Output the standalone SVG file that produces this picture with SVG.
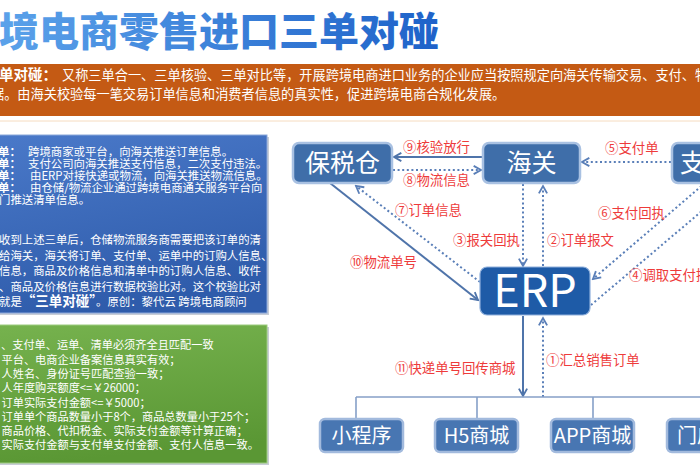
<svg xmlns="http://www.w3.org/2000/svg" width="700" height="470" viewBox="0 0 700 470">
<defs>
<linearGradient id="tg" x1="0" y1="0" x2="1" y2="0">
<stop offset="0" stop-color="#5BA2EA"/><stop offset="1" stop-color="#1E62C9"/>
</linearGradient>
<linearGradient id="bg" x1="0" y1="0" x2="0.3" y2="1">
<stop offset="0" stop-color="#4A79C9"/><stop offset="1" stop-color="#2F5CAB"/>
</linearGradient>
<linearGradient id="gg" x1="0" y1="0" x2="0.2" y2="1">
<stop offset="0" stop-color="#76B24E"/><stop offset="1" stop-color="#5A9734"/>
</linearGradient>
<marker id="ah" viewBox="0 0 12 12" refX="10" refY="6" markerWidth="11" markerHeight="11" markerUnits="userSpaceOnUse" orient="auto">
<path d="M2,1.5 L10,6 L2,10.5" fill="none" stroke="#4F74AA" stroke-width="2"/>
</marker>
<marker id="ahd" viewBox="0 0 12 12" refX="10" refY="6" markerWidth="11" markerHeight="11" markerUnits="userSpaceOnUse" orient="auto">
<path d="M2,1.5 L10,6 L2,10.5" fill="none" stroke="#5A7FB8" stroke-width="2"/>
</marker>
<style>
text{font-family:"Noto Sans CJK SC","Noto Sans",sans-serif;}
.w{fill:#fff;}
.p{font-size:13.2px;fill:#fff;}
.b{font-size:11.4px;fill:#fff;}
.g{font-size:11.2px;fill:#fff;}
.lbl{font-size:13.4px;fill:#EE3B3B;}
.node rect{fill:#3F6EA9;stroke:#A9C1E2;stroke-width:2.5;}
.node text{fill:#fff;font-size:25px;}
.leaf rect{fill:#4876B2;stroke:#A2BADD;stroke-width:2.5;}
.leaf text{fill:#fff;font-size:20px;}
.solid{stroke:#4F74AA;stroke-width:2;fill:none;}
.dot{stroke:#5A7FB8;stroke-width:2;fill:none;stroke-dasharray:2 2.6;}
.bus{stroke:#86A0C8;stroke-width:1.6;fill:none;}
</style>
</defs>
<rect width="700" height="470" fill="#fff"/>

<!-- title -->
<text x="-1" y="46" font-size="40" font-weight="900" fill="url(#tg)">境电商零售进口三单对碰</text>

<!-- orange band -->
<rect x="0" y="64" width="700" height="52" fill="#C45A14"/>
<line x1="0" y1="121" x2="700" y2="121" stroke="#F6DCC0" stroke-width="1"/>
<text y="79.5" class="p"><tspan x="-1" font-size="14.5" font-weight="700">单对碰：</tspan><tspan x="62">又称三单合一、三单核验、三单对比等，开展跨境电商进口业务的企业应当按照规定向海关传输交易、支付、物</tspan></text>
<text x="-9" y="99" class="p">据。由海关校验每一笔交易订单信息和消费者信息的真实性，促进跨境电商合规化发展。</text>

<!-- blue box -->
<rect x="-4" y="137" width="273" height="178" fill="#C8CDD6"/>
<rect x="-6" y="135" width="273" height="178" fill="url(#bg)" stroke="#8AA7DA" stroke-width="1"/>
<text y="155.5" class="b"><tspan x="-2" font-weight="700">单：</tspan><tspan x="28">跨境商家或平台，向海关推送订单信息。</tspan></text>
<text y="167.5" class="b"><tspan x="-2" font-weight="700">单：</tspan><tspan x="28">支付公司向海关推送支付信息，二次支付违法。</tspan></text>
<text y="179.5" class="b"><tspan x="-2" font-weight="700">单：</tspan><tspan x="30">由ERP对接快递或物流，向海关推送物流信息。</tspan></text>
<text y="191.5" class="b"><tspan x="-2" font-weight="700">单：</tspan><tspan x="30">由仓储/物流企业通过跨境电商通关服务平台向</tspan></text>
<text x="-1" y="204" class="b">门推送清单信息。</text>
<text x="-1" y="244" class="b">收到上述三单后，仓储物流服务商需要把该订单的清</text>
<text x="-1" y="259.5" class="b">给海关，海关将订单、支付单、运单中的订购人信息、</text>
<text x="-1" y="275" class="b">信息，商品及价格信息和清单中的订购人信息、收件</text>
<text x="-1" y="290.5" class="b">、商品及价格信息进行数据校验比对。这个校验比对</text>
<text x="-1" y="306" class="b">就是<tspan font-weight="700" font-size="13.5">“三单对碰”</tspan>。原创：黎代云 跨境电商顾问</text>

<!-- green box -->
<rect x="-4" y="327" width="273" height="138" fill="#C8CDD6"/>
<rect x="-6" y="325" width="273" height="138" fill="url(#gg)" stroke="#9CCB7E" stroke-width="1"/>
<text x="1" y="349" class="g">、支付单、运单、清单必须齐全且匹配一致</text>
<text x="1.5" y="363.5" class="g">平台、电商企业备案信息真实有效；</text>
<text x="1.5" y="377.5" class="g">人姓名、身份证号匹配查验一致；</text>
<text x="1.5" y="392" class="g">人年度购买额度&lt;=￥26000；</text>
<text x="1.5" y="406.5" class="g">订单实际支付金额&lt;=￥5000；</text>
<text x="1.5" y="420.5" class="g">订单单个商品数量小于8个，商品总数量小于25个；</text>
<text x="1.5" y="434.5" class="g">商品价格、代扣税金、实际支付金额等计算正确；</text>
<text x="1.5" y="449" class="g">实际支付金额与支付单支付金额、支付人信息一致。</text>

<!-- connectors -->
<g id="connectors">
<line class="solid" x1="483" y1="157" x2="394" y2="157" marker-end="url(#ah)"/>
<line class="dot" x1="393" y1="170" x2="481" y2="170" marker-end="url(#ahd)"/>
<line class="dot" x1="671" y1="162" x2="582" y2="162" marker-end="url(#ahd)"/>
<line class="dot" x1="523" y1="184" x2="523" y2="266" marker-end="url(#ahd)"/>
<line class="dot" x1="543" y1="266" x2="543" y2="186" marker-end="url(#ahd)"/>
<line class="solid" x1="330" y1="183" x2="478" y2="300" marker-end="url(#ah)"/>
<line class="dot" x1="480" y1="282" x2="356" y2="186" marker-end="url(#ahd)"/>
<line class="dot" x1="705" y1="183" x2="593" y2="279" marker-end="url(#ahd)"/>
<line class="dot" x1="591" y1="305" x2="735" y2="183" marker-end="url(#ahd)"/>
<line class="solid" x1="523" y1="316" x2="523" y2="396" marker-end="url(#ah)"/>
<line class="dot" x1="543" y1="397" x2="543" y2="318" marker-end="url(#ahd)"/>
<path class="bus" d="M356,397 H700 M356,397 V419 M477,397 V419 M593,397 V419"/>
<text class="lbl" x="403" y="151.5">⑨核验放行</text>
<text class="lbl" x="403" y="185">⑧物流信息</text>
<text class="lbl" x="605" y="153">⑤支付单</text>
<text class="lbl" x="520" y="245" text-anchor="end">③报关回执</text>
<text class="lbl" x="547" y="245">②订单报文</text>
<text class="lbl" x="350" y="266.5">⑩物流单号</text>
<text class="lbl" x="395" y="215">⑦订单信息</text>
<text class="lbl" x="598" y="217.5">⑥支付回执</text>
<text class="lbl" x="629" y="280">④调取支付接口</text>
<text class="lbl" x="395" y="373">⑪快递单号回传商城</text>
<text class="lbl" x="546" y="365">①汇总销售订单</text>
</g>

<!-- nodes -->
<g id="node-baoshuicang" class="node">
<rect x="293" y="143" width="99" height="40" rx="6"/>
<text x="342.5" y="172" text-anchor="middle">保税仓</text>
</g>
<g id="node-haiguan" class="node">
<rect x="483" y="143" width="97" height="40" rx="6"/>
<text x="531.5" y="172" text-anchor="middle">海关</text>
</g>
<g id="node-zhifu" class="node">
<rect x="672" y="143" width="104" height="40" rx="6"/>
<text x="680" y="172">支付公司</text>
</g>
<g id="node-erp">
<rect x="480" y="267" width="110" height="48" rx="7" fill="#1E5BA7" stroke="#8FB0DC" stroke-width="1.2"/>
<text x="535" y="307" text-anchor="middle" font-family="'Open Sans','Liberation Sans',sans-serif" font-size="45" fill="#fff">ERP</text>
</g>
<g id="node-xcx" class="leaf">
<rect x="320" y="419" width="83" height="33" rx="5"/>
<text x="361.5" y="443" text-anchor="middle">小程序</text>
</g>
<g id="node-h5" class="leaf">
<rect x="435" y="419" width="83" height="33" rx="5"/>
<text x="476.5" y="443" text-anchor="middle">H5商城</text>
</g>
<g id="node-app" class="leaf">
<rect x="551" y="419" width="83" height="33" rx="5"/>
<text x="592.5" y="443" text-anchor="middle">APP商城</text>
</g>
<g id="node-md" class="leaf">
<rect x="667" y="419" width="83" height="33" rx="5"/>
<text x="677" y="443">门店</text>
</g>
</svg>
